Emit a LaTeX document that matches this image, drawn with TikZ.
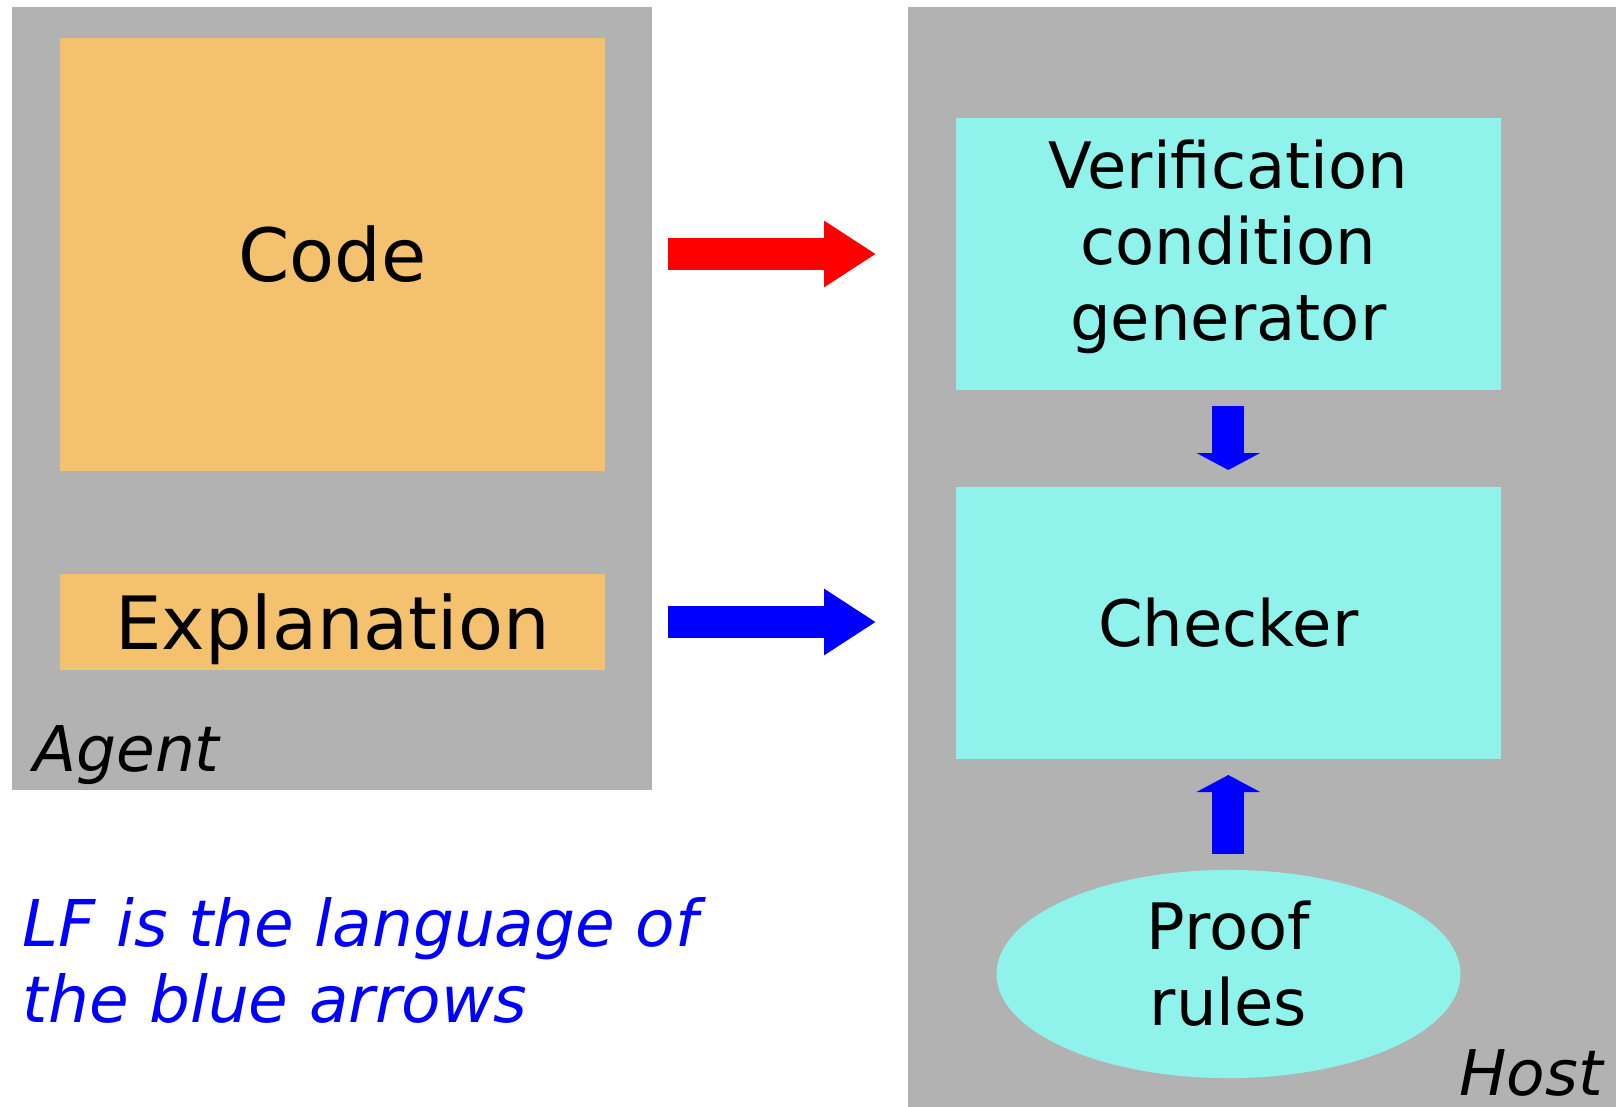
\documentclass[tikz,border=0pt]{standalone}
\usepackage{fontspec}
\setmainfont{DejaVu Sans}
\usetikzlibrary{shapes.geometric,arrows.meta}
\definecolor{panelgrey}{RGB}{178,178,178}
\definecolor{agentorange}{RGB}{244,193,110}
\definecolor{hostcyan}{RGB}{143,243,235}

\begin{document}
\begin{tikzpicture}[x=1pt,y=-1pt,
  panel/.style={fill=panelgrey,inner sep=0pt},
  agentbox/.style={fill=agentorange,inner sep=0pt,font=\fontsize{73.5}{86}\selectfont},
  hostbox/.style={fill=hostcyan,inner sep=0pt,align=center,font=\fontsize{64}{76}\selectfont},
  corner/.style={inner sep=0pt,font=\fontsize{63}{76}\selectfont\itshape},
  bigarrow/.style={line width=32pt,-{Triangle[length=52pt,width=63pt]}},
  smallarrow/.style={line width=32pt,-{Triangle[length=17pt,width=63pt]}}
]
\useasboundingbox (0,0) rectangle (1616,1107);

\node[panel,minimum width=640pt,minimum height=783pt] (agent) at (332.4,398.9) {};
\node[panel,minimum width=708pt,minimum height=1100pt] (host) at (1262,557.1) {};

\node[agentbox,minimum width=545pt,minimum height=433pt] (code) at (332.4,254.5) {Code};
\node[agentbox,text depth=0pt,minimum width=545pt,minimum height=96pt] (expl) at (332.4,622) {Explanation};

\node[hostbox,text depth=28pt,minimum width=545pt,minimum height=271pt] (vcgen) at (1228.3,254)
  {Verification\\condition\\generator};
\node[hostbox,minimum width=545pt,minimum height=272pt] (checker) at (1228.3,622.5) {Checker};
\node[hostbox,ellipse,text depth=22.6pt,minimum width=464pt,minimum height=206pt] (rules) at (1228.5,974)
  {Proof\\rules};

\node[corner,anchor=base west] (agentlabel) at (33,771) {Agent};
\node[corner,anchor=base east] (hostlabel) at (1603,1095) {Host};
\node[corner,font=\fontsize{64.5}{76}\selectfont\itshape,anchor=base west,align=left,text=blue] (note) at (22.7,1022)
  {LF is the language of\\the blue arrows};

\coordinate (codeout) at (668,254);
\coordinate (vcin) at (876,254);
\coordinate (explout) at (668,622);
\coordinate (checkin) at (876,622);
\coordinate (vcout) at (1228.3,406);
\coordinate (checktop) at (1228.3,470);
\coordinate (rulesout) at (1228.3,854);
\coordinate (checkbot) at (1228.3,775);

\draw[bigarrow,red] (codeout) -- (vcin);
\draw[bigarrow,blue] (explout) -- (checkin);
\draw[smallarrow,blue] (vcout) -- (checktop);
\draw[smallarrow,blue] (rulesout) -- (checkbot);
\end{tikzpicture}
\end{document}
